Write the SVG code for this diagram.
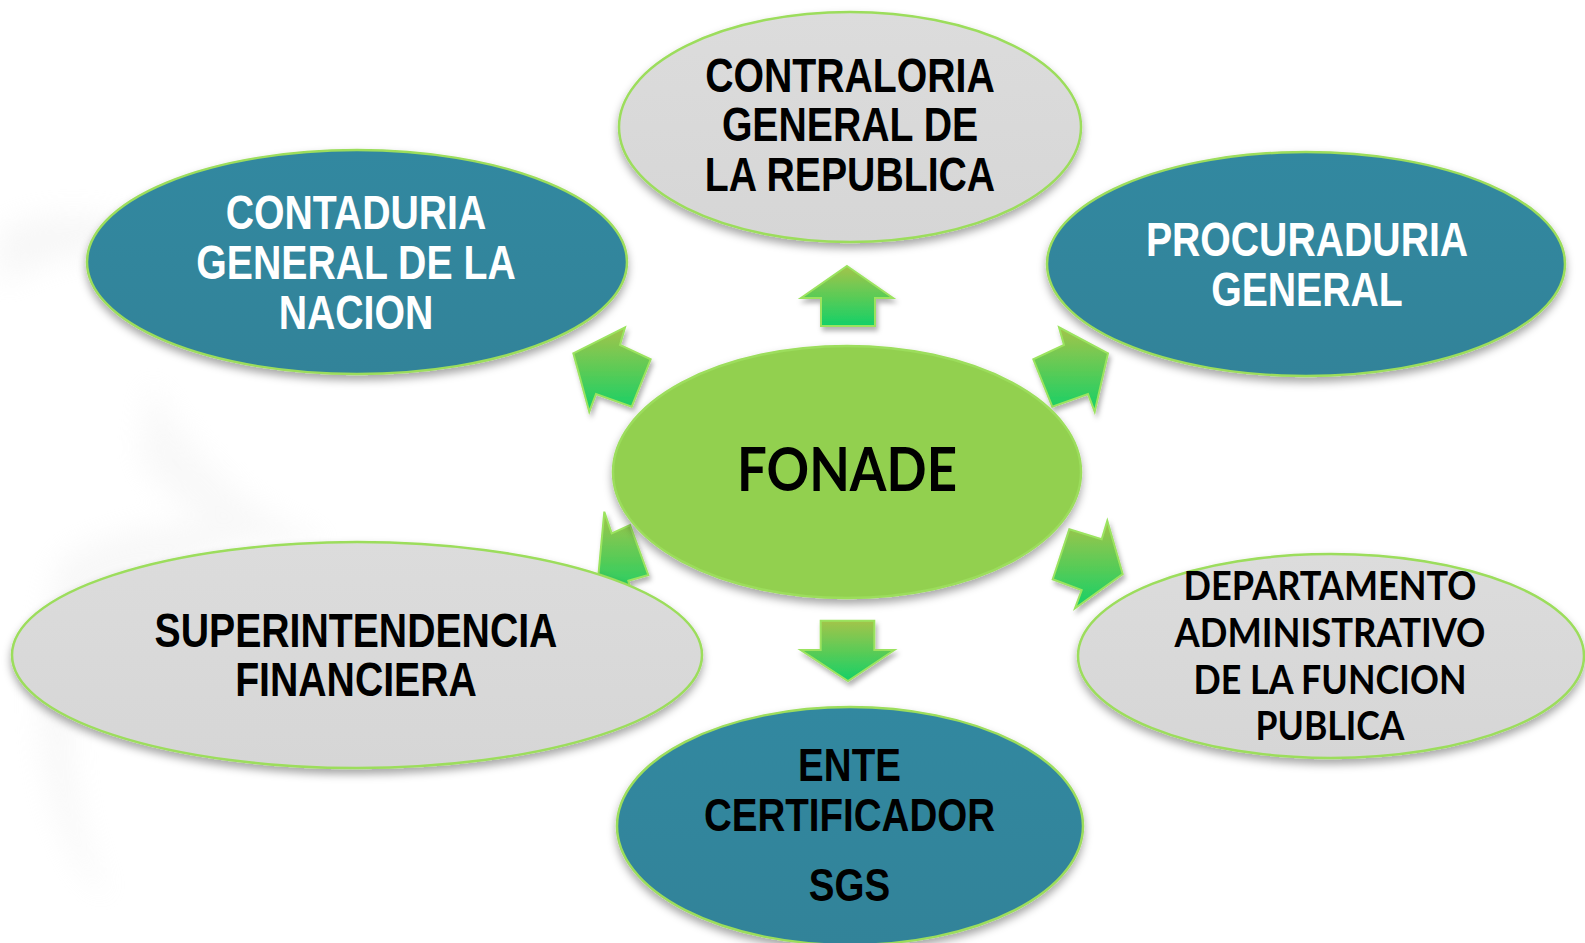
<svg xmlns="http://www.w3.org/2000/svg" width="1585" height="943" viewBox="0 0 1585 943">
  <defs>
    <linearGradient id="arrowGrad" x1="0" y1="0" x2="0" y2="1">
      <stop offset="0" stop-color="#A3C44B"/>
      <stop offset="0.5" stop-color="#5CCB56"/>
      <stop offset="1" stop-color="#14D068"/>
    </linearGradient>
    <linearGradient id="tealGrad" x1="0" y1="0" x2="0" y2="1">
      <stop offset="0" stop-color="#3388A0"/>
      <stop offset="1" stop-color="#318399"/>
    </linearGradient>
    <linearGradient id="grayGrad" x1="0" y1="0" x2="0" y2="1">
      <stop offset="0" stop-color="#DCDCDC"/>
      <stop offset="1" stop-color="#D6D6D6"/>
    </linearGradient>
    <filter id="shadow" x="-10%" y="-10%" width="120%" height="130%">
      <feDropShadow dx="0" dy="5" stdDeviation="4" flood-color="#000" flood-opacity="0.35"/>
    </filter>
    <filter id="ashadow" x="-20%" y="-20%" width="140%" height="140%">
      <feDropShadow dx="2" dy="4" stdDeviation="2.5" flood-color="#000" flood-opacity="0.3"/>
    </filter>
    <filter id="bgblur" x="-50%" y="-50%" width="200%" height="200%">
      <feGaussianBlur stdDeviation="14"/>
    </filter>
    <style>
      .node { stroke: #9CDD5C; stroke-width: 2.5; filter: url(#shadow); }
      .teal { fill: url(#tealGrad); }
      .gray { fill: url(#grayGrad); }
      .green { fill: #92D050; }
      .arrow { fill: url(#arrowGrad); stroke: #9BE35F; stroke-width: 2; stroke-linejoin: miter; filter: url(#ashadow); }
      .narrow { font-family: "Liberation Sans", Arial, sans-serif; font-weight: bold; font-size: 49px; text-anchor: middle; }
      .cal { font-family: Lato, "Open Sans", sans-serif; font-weight: bold; text-anchor: middle; fill: #000; }
      .white { fill: #FFFFFF; }
      .black { fill: #000000; }
    </style>
  </defs>

  <rect width="1585" height="943" fill="#FFFFFF"/>

  <!-- faint background watermark -->
  <g id="background" filter="url(#bgblur)" opacity="0.3">
    <path d="M0,230 C60,200 140,215 190,250 C120,245 60,250 0,285 Z" fill="#E6E6E6"/>
    <path d="M150,380 C200,470 260,520 330,540 C260,560 180,520 140,460 Z" fill="#EAEAEA"/>
    <path d="M60,560 C120,520 220,515 300,530 C210,545 130,580 90,650 C60,720 70,820 110,900 C40,840 20,700 60,560 Z" fill="#E8E8E8"/>
  </g>

  <!-- connectors (block arrows) -->
  <g id="connectors">
    <polygon class="arrow" points="847,266 893,298 875,298 875,326 821,326 821,298 801,298"/>
    <polygon class="arrow" points="820.7,620.7 874.3,620.7 874.3,650 894.3,650 848,681 800.7,650 820.7,650"/>
    <polygon class="arrow" points="573.3,353.3 625,327.3 620,345 650.7,359.3 631.7,406.7 596,394 589.3,411.7"/>
    <polygon class="arrow" points="1108,353.3 1059,327.3 1064,345 1033.3,359.3 1052.3,406.7 1088,394 1094.7,411.7"/>
    <polygon class="arrow" points="1069.3,529.3 1101.7,539.3 1107.3,520.7 1122.7,574 1075,608.3 1081.7,590 1052.7,579.3"/>
    <polygon class="arrow" points="604.3,511.7 611.7,533.3 630,525 648.3,575 628.3,580.7 634,600 597,590"/>
  </g>

  <g id="contraloria">
    <ellipse class="node gray" cx="850" cy="127" rx="231" ry="115"/>
    <g transform="translate(850,0) scale(0.8,1)" class="narrow black">
      <text x="0" y="92">CONTRALORIA</text>
      <text x="0" y="141.5">GENERAL DE</text>
      <text x="0" y="191">LA REPUBLICA</text>
    </g>
  </g>

  <g id="contaduria">
    <ellipse class="node teal" cx="357" cy="262" rx="270" ry="112"/>
    <g transform="translate(356,0) scale(0.8,1)" class="narrow white">
      <text x="0" y="229">CONTADURIA</text>
      <text x="0" y="279">GENERAL DE LA</text>
      <text x="0" y="329">NACION</text>
    </g>
  </g>

  <g id="procuraduria">
    <ellipse class="node teal" cx="1306" cy="264" rx="259" ry="112"/>
    <g transform="translate(1307,0) scale(0.8,1)" class="narrow white">
      <text x="0" y="256">PROCURADURIA</text>
      <text x="0" y="306">GENERAL</text>
    </g>
  </g>

  <g id="fonade">
    <ellipse class="node green" cx="847" cy="472" rx="234" ry="126"/>
    <text class="cal" x="847" y="491" font-size="61" textLength="220" lengthAdjust="spacingAndGlyphs">FONADE</text>
  </g>

  <g id="superintendencia">
    <ellipse class="node gray" cx="357" cy="655" rx="345" ry="113"/>
    <g transform="translate(356,0) scale(0.8,1)" class="narrow black">
      <text x="0" y="647">SUPERINTENDENCIA</text>
      <text x="0" y="696">FINANCIERA</text>
    </g>
  </g>

  <g id="departamento">
    <ellipse class="node gray" cx="1331" cy="656" rx="253" ry="102"/>
    <text class="cal" x="1330" y="599.5" font-size="40" textLength="293" lengthAdjust="spacingAndGlyphs">DEPARTAMENTO</text>
    <text class="cal" x="1330" y="646.5" font-size="40" textLength="311" lengthAdjust="spacingAndGlyphs">ADMINISTRATIVO</text>
    <text class="cal" x="1330" y="693.5" font-size="40" textLength="273" lengthAdjust="spacingAndGlyphs">DE LA FUNCION</text>
    <text class="cal" x="1330" y="739.5" font-size="40" textLength="149" lengthAdjust="spacingAndGlyphs">PUBLICA</text>
  </g>

  <g id="ente">
    <ellipse class="node teal" cx="850" cy="826" rx="233" ry="119"/>
    <g transform="translate(849.5,0) scale(0.82,1)" class="narrow black">
      <text x="0" y="781.5" font-size="47">ENTE</text>
      <text x="0" y="831" font-size="47">CERTIFICADOR</text>
      <text x="0" y="901" font-size="47">SGS</text>
    </g>
  </g>
</svg>
